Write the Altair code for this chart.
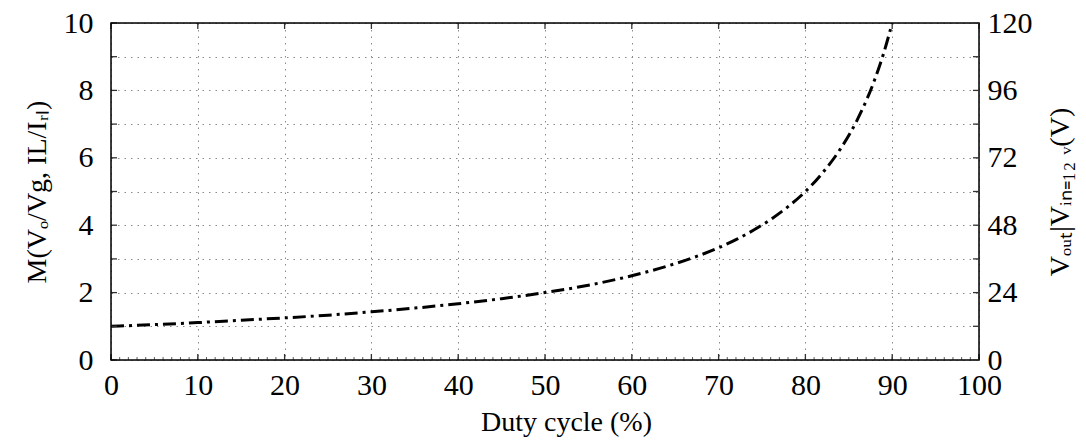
import altair as alt
import pandas as pd

# Data
duty = [0, 5, 10, 15, 20, 25, 30, 35, 40, 45, 50, 55, 60, 65, 70, 72, 74, 76, 78, 80, 82, 84, 86, 88, 89, 90]
gain = [1.00, 1.05, 1.11, 1.18, 1.25, 1.33, 1.43, 1.54, 1.67, 1.82, 2.00, 2.22, 2.50, 2.86, 3.33,
        3.57, 3.85, 4.17, 4.55, 5.00, 5.56, 6.25, 7.14, 8.33, 9.09, 10.0]

x_ticks = [0, 10, 20, 30, 40, 50, 60, 70, 80, 90, 100]
x_minor = list(range(0, 101))
y_ticks = [0, 1, 2, 3, 4, 5, 6, 7, 8, 9, 10]
r_ticks = [0, 12, 24, 36, 48, 60, 72, 84, 96, 108, 120]
r_labels = [0, 24, 48, 72, 96, 120]

W, H = 868, 337
FONT = "Liberation Serif"

curve = pd.DataFrame({"D": duty, "M": gain})
xt = pd.DataFrame({"v": x_ticks})
xm = pd.DataFrame({"v": x_minor})
yt = pd.DataFrame({"v": y_ticks})
rt = pd.DataFrame({"v": r_ticks})
frame_df = pd.DataFrame({"f": [0]})

xscale = alt.Scale(domain=[0, 100], nice=False, zero=False)
yscale = alt.Scale(domain=[0, 10], nice=False, zero=False)
rscale = alt.Scale(domain=[0, 120], nice=False, zero=False)

grid_dash = [1.5, 5]

x_axis = alt.Axis(
    values=x_ticks, grid=True, gridDash=grid_dash, gridColor="#8a8a8a", gridWidth=1,
    ticks=False, domain=False, labelFont=FONT, labelFontSize=30, labelColor="black",
    labelPadding=10, labelFlush=False, labelOverlap=False,
    title="Duty cycle (%)", titleFont=FONT, titleFontSize=28, titleFontWeight="normal",
    titleColor="black", titlePadding=8, titleX=455)
y_axis = alt.Axis(
    values=y_ticks, grid=True, gridDash=grid_dash, gridColor="#8a8a8a", gridWidth=1,
    ticks=False, domain=False, labelFont=FONT, labelFontSize=30, labelColor="black",
    labelPadding=18, labelFlush=False, labelOverlap=False,
    labelExpr="datum.value % 2 == 0 ? datum.label : ''",
    title="M(Vₒ/Vg, IL/Iᵣₗ)", titleFont=FONT, titleFontSize=28, titleFontWeight="normal",
    titleColor="black", titlePadding=12)

line = alt.Chart(curve).mark_line(
    color="black", strokeWidth=3, strokeDash=[13, 5, 3, 5], interpolate="monotone", clip=True
).encode(
    x=alt.X("D:Q", scale=xscale, axis=x_axis),
    y=alt.Y("M:Q", scale=yscale, axis=y_axis),
)

tick_color = "#333333"
left_ticks = alt.Chart(yt).mark_rule(color=tick_color, strokeWidth=1.3).encode(
    y=alt.Y("v:Q", scale=yscale, axis=y_axis), x=alt.value(0), x2=alt.value(6))
bottom_ticks = alt.Chart(xt).mark_rule(color=tick_color, strokeWidth=1.3).encode(
    x=alt.X("v:Q", scale=xscale, axis=x_axis), y=alt.value(H - 6), y2=alt.value(H))
top_ticks = alt.Chart(xt).mark_rule(color=tick_color, strokeWidth=1.3).encode(
    x=alt.X("v:Q", scale=xscale, axis=x_axis), y=alt.value(0), y2=alt.value(6))
minor_ticks = alt.Chart(xm).mark_rule(color=tick_color, strokeWidth=0.8).encode(
    x=alt.X("v:Q", scale=xscale, axis=x_axis), y=alt.value(H - 3), y2=alt.value(H))
frame = alt.Chart(frame_df).mark_rect(fill=None, stroke="black", strokeWidth=1.5).encode(
    x=alt.value(0), x2=alt.value(W), y=alt.value(0), y2=alt.value(H))

left = alt.layer(line, left_ticks, bottom_ticks, top_ticks, minor_ticks, frame)

right = alt.Chart(rt).mark_rule(color=tick_color, strokeWidth=1.3).encode(
    y=alt.Y("v:Q", scale=rscale, axis=alt.Axis(
        orient="right", values=r_labels, grid=False, ticks=False, domain=False,
        labelFont=FONT, labelFontSize=30, labelColor="black", labelPadding=8,
        labelFlush=False, labelOverlap=False,
        title="Vₒᵤₜ|Vᵢₙ₌₁₂ ᵥ(V)", titleFont=FONT, titleFontSize=28, titleFontWeight="normal",
        titleColor="black", titleAngle=270, titleBaseline="top", titlePadding=14)),
    x=alt.value(W - 6), x2=alt.value(W),
)

chart = alt.layer(left, right).resolve_scale(y="independent").properties(
    width=W, height=H,
    autosize=alt.AutoSizeParams(type="none"),
    padding={"left": 103, "top": 15, "right": 99, "bottom": 80},
).configure_view(stroke=None).configure(background="white")

chart.save("out.html", embed_options={"renderer": "svg", "actions": False})
